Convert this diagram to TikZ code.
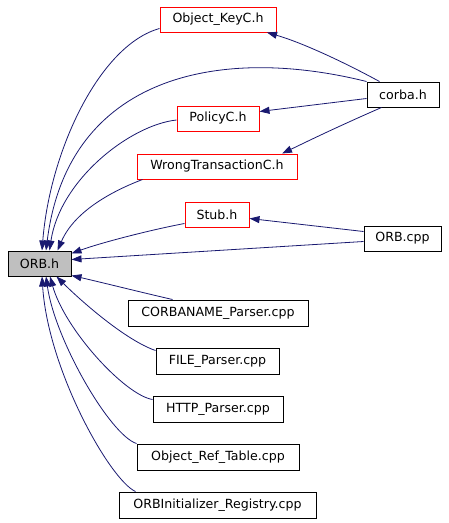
\documentclass[tikz,border=0pt]{standalone}
\usepackage{fontspec}
\setmainfont{DejaVu Sans}
\usetikzlibrary{calc,arrows.meta}
\definecolor{edgeblue}{HTML}{191970}
\definecolor{boxred}{HTML}{FF0000}
\definecolor{boxgray}{HTML}{BFBFBF}

\begin{document}
\begin{tikzpicture}[x=1pt,y=-1pt,
  file/.style={draw=black, line width=1pt, inner sep=0pt, minimum height=25pt, font=\fontsize{12.6}{14}\selectfont},
  redfile/.style={file, draw=boxred},
  incl/.style={draw=edgeblue, line width=0.8pt, -{Triangle[length=10pt,width=7pt]}}]

\useasboundingbox (0,0) rectangle (448,523);

% Define files
\node[file, fill=boxgray, minimum width=63pt] (orbh) at (39.5,263.5) {ORB.h};
\node[redfile, minimum width=116pt] (objkeyc) at (218,19.5) {Object\_KeyC.h};
\node[file, minimum width=72pt] (corbah) at (403,94.5) {corba.h};
\node[redfile, minimum width=82pt] (policyc) at (218,118.5) {PolicyC.h};
\node[redfile, minimum width=160pt] (wrongc) at (217,166.5) {WrongTransactionC.h};
\node[redfile, minimum width=64pt] (stubh) at (217,214.5) {Stub.h};
\node[file, minimum width=77pt] (orbcpp) at (402.5,238.5) {ORB.cpp};
\node[file, minimum width=180pt, minimum height=26pt] (cnparser) at (218,313) {CORBANAME\_Parser.cpp};
\node[file, minimum width=123pt, minimum height=26pt] (fileparser) at (217.5,361) {FILE\_Parser.cpp};
\node[file, minimum width=130pt, minimum height=26pt] (httpparser) at (218,409) {HTTP\_Parser.cpp};
\node[file, minimum width=162pt, minimum height=26pt] (objreftable) at (218,457) {Object\_Ref\_Table.cpp};
\node[file, minimum width=197pt, minimum height=26pt] (orbinitreg) at (217.5,505) {ORBInitializer\_Registry.cpp};

% Includes from corba.h
\draw[incl] (corbah.north west) .. controls (220,45) and (68,75) .. ($(orbh.north)+(6.5,0)$);
\draw[incl] ($(corbah.north west)+(13,0)$) .. controls (340,60) and (300,42) .. ($(objkeyc.south)+(49,0)$);
\draw[incl] ($(corbah.west)+(0,4)$) -- ($(policyc.north east)+(0,6)$);
\draw[incl] ($(corbah.south west)+(15,0)$) .. controls (330,130) and (300,145) .. ($(wrongc.north)+(65,0)$);

% Headers above ORB.h
\draw[incl] ($(objkeyc.south west)+(0,-4)$) .. controls (100,45) and (50,150) .. ($(orbh.north)+(2.5,0)$);
\draw[incl] ($(policyc.west)+(0,1.5)$) .. controls (130,125) and (60,180) .. ($(orbh.north)+(10,0)$);
\draw[incl] ($(wrongc.south west)+(6,0)$) .. controls (115,190) and (75,210) .. ($(orbh.north east)+(-14,0)$);
\draw[incl] ($(stubh.south west)+(0,-4)$) .. controls (150,230) and (100,243) .. ($(orbh.north east)+(0,3)$);

% Includes from ORB.cpp
\draw[incl] ($(orbcpp.south west)+(0,-10)$) -- ($(orbh.east)+(0,-4)$);
\draw[incl] ($(orbcpp.north west)+(0,6)$) -- ($(stubh.east)+(0,4)$);

% Sources below ORB.h
\draw[incl] ($(cnparser.north west)+(45,0)$) .. controls (140,292) and (100,282) .. ($(orbh.south east)+(0,-1)$);
\draw[incl] ($(fileparser.north west)+(0,3)$) .. controls (125,340) and (80,300) .. ($(orbh.south east)+(-15,0)$);
\draw[incl] ($(httpparser.north west)+(0,4)$) .. controls (125,395) and (65,330) .. ($(orbh.south)+(10.5,0)$);
\draw[incl] (objreftable.north west) .. controls (110,435) and (55,340) .. ($(orbh.south)+(6.5,0)$);
\draw[incl] ($(orbinitreg.north west)+(17,0)$) .. controls (110,480) and (48,370) .. ($(orbh.south)+(2.5,0)$);

\end{tikzpicture}
\end{document}
